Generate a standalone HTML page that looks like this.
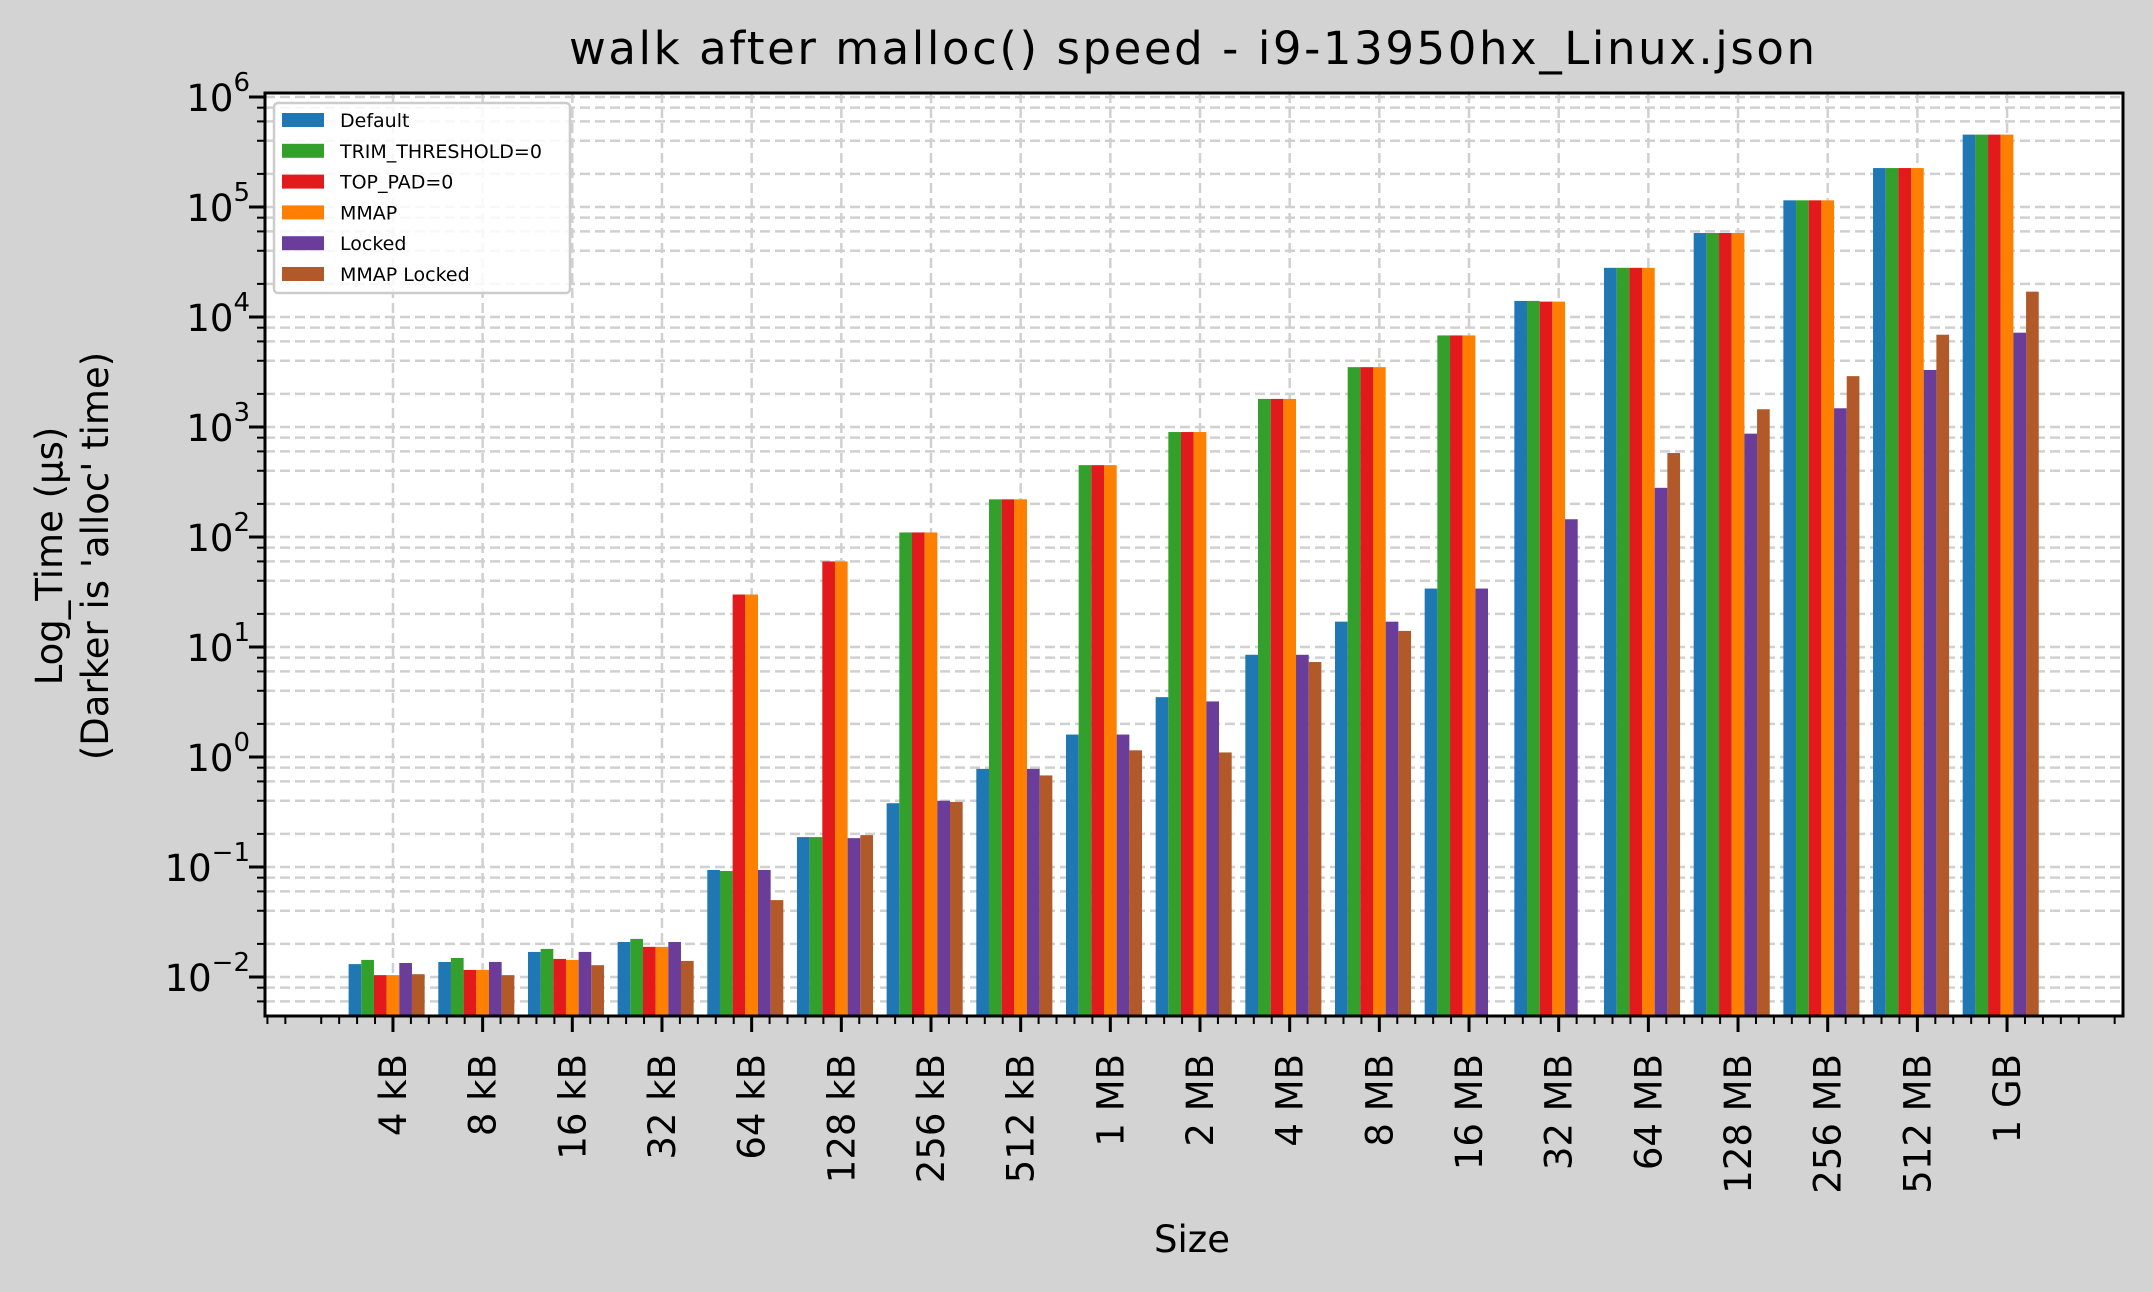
<!DOCTYPE html>
<html><head><meta charset="utf-8"><style>
html,body{margin:0;padding:0;background:#d3d3d3;}
svg{display:block;font-family:"DejaVu Sans","Liberation Sans",sans-serif;}
</style></head><body>
<svg id="chart" width="2153" height="1292" viewBox="0 0 2153 1292">
<rect x="0" y="0" width="2153" height="1292" fill="#d3d3d3"/>
<rect x="265" y="93" width="1858" height="923" fill="#ffffff"/>
<g id="grid"></g><g id="bars"></g><g id="axes"></g><g id="legend"></g>
<text x="1192" y="64" text-anchor="middle" font-size="45" fill="#000" textLength="1246">walk after malloc() speed - i9-13950hx_Linux.json</text>
<text x="1192" y="1252" text-anchor="middle" font-size="37" fill="#000">Size</text>
<text transform="translate(62,556) rotate(-90)" text-anchor="middle" font-size="37" fill="#000">Log_Time (µs)</text>
<text transform="translate(108,556) rotate(-90)" text-anchor="middle" font-size="37" fill="#000">(Darker is 'alloc' time)</text>
</svg>
<script>
const categories = ["4 kB","8 kB","16 kB","32 kB","64 kB","128 kB","256 kB","512 kB","1 MB","2 MB","4 MB","8 MB","16 MB","32 MB","64 MB","128 MB","256 MB","512 MB","1 GB"];
const seriesNames = ["Default","TRIM_THRESHOLD=0","TOP_PAD=0","MMAP","Locked","MMAP Locked"];
const seriesColors = ["#1f77b4","#33a02c","#e31a1c","#ff7f00","#6a3d9a","#b15928"];
const sDefault = [0.0131,0.0137,0.0169,0.0208,0.094,0.187,0.38,0.78,1.6,3.5,8.5,17,34,14000,28000,58000,115000,226000,455000];
const sTrim = [0.0143,0.0149,0.018,0.0222,0.092,0.187,110,220,450,900,1800,3500,6800,14000,28000,58000,115000,226000,455000];
const sTopPad = [0.0104,0.0116,0.0146,0.0188,30,60,110,220,450,900,1800,3500,6800,13800,28000,58000,115000,226000,455000];
const sMmap = [0.0104,0.0116,0.0143,0.0188,30,60,110,220,450,900,1800,3500,6800,13800,28000,58000,115000,226000,455000];
const sLocked = [0.0134,0.0137,0.0169,0.0208,0.094,0.183,0.40,0.78,1.6,3.2,8.5,17,34,145,280,870,1480,3300,7200];
const sMmapLocked = [0.0106,0.0104,0.0128,0.0140,0.050,0.195,0.39,0.68,1.15,1.1,7.3,14,null,null,580,1450,2900,6900,17000];
const yTickExps = [-2,-1,0,1,2,3,4,5,6];

const NS="http://www.w3.org/2000/svg";
const L=265,R=2123,T=93,B=1016;
const xmin=-1.427, xmax=19.293;
function xs(u){return L+(u-xmin)*(R-L)/(xmax-xmin);}
function ys(v){return 977-110*(Math.log10(v)+2);}
const ymin=Math.pow(10,-2-(B-977)/110);
function mk(tag,attrs,parent){const e=document.createElementNS(NS,tag);for(const k in attrs)e.setAttribute(k,attrs[k]);parent.appendChild(e);return e;}
const grid=document.getElementById('grid'),bars=document.getElementById('bars'),axes=document.getElementById('axes'),legend=document.getElementById('legend');
const gstyle={stroke:"#d0d0d0","stroke-width":2.5,"stroke-dasharray":"10,5",fill:"none"};

for(let e=-3;e<=6;e++){
  for(const m of [1,2,4,6,8]){
    const v=m*Math.pow(10,e);
    if(v<ymin||v>1.02e6)continue;
    const y=ys(v);
    if(y<T-1||y>B)continue;
    const g=mk('line',Object.assign({x1:L,x2:R,y1:y,y2:y},gstyle),grid);
    
    
    const t=mk('line',{x1:L-(m===1?16:8),x2:L,y1:y,y2:y,stroke:"#000","stroke-width":m===1?3:2},axes);
    
    
  }
}
yTickExps.forEach(e=>{
  const y=ys(Math.pow(10,e));
  const tx=mk('text',{x:250,y:y+14,"text-anchor":"end","font-size":37,fill:"#000"},axes);
  
  
  const a=mk('tspan',{},tx);
  a.textContent="10";
  const b=mk('tspan',{"font-size":26,dy:-20},tx);
  b.textContent=(e<0?"\u2212":"")+Math.abs(e);
});

categories.forEach((c,i)=>{
  const x=xs(i);
  const g=mk('line',Object.assign({x1:x,x2:x,y1:T,y2:B},gstyle),grid);
  
  
  const t=mk('line',{x1:x,x2:x,y1:B,y2:B+16,stroke:"#000","stroke-width":3},axes);
  
  
  const lb=mk('text',{transform:`translate(${x+13},1054) rotate(-90)`,"text-anchor":"end","font-size":37,fill:"#000"},axes);
  lb.textContent=c;
  
  
});
for(let u=Math.ceil(xmin/0.2)*0.2;u<=xmax;u+=0.2){
  if(Math.abs(u-Math.round(u))<1e-6)continue;
  const x=xs(u);
  const t=mk('line',{x1:x,x2:x,y1:B,y2:B+8,stroke:"#000","stroke-width":2},axes);
  
  
}

const series=[sDefault,sTrim,sTopPad,sMmap,sLocked,sMmapLocked];
const bw=0.1413;
const unit=(R-L)/(xmax-xmin);
series.forEach((s,si)=>{
  s.forEach((v,i)=>{
    if(v==null)return;
    const cx=xs(i+(si-3)*bw);
    const y=Math.max(T,ys(v));
    const r=mk('rect',{x:cx-bw*unit/2,y:y,width:bw*unit,height:B-y,fill:seriesColors[si]},bars);
    
    
  });
});

const sp=mk('rect',{x:L,y:T,width:R-L,height:B-T,fill:"none",stroke:"#000","stroke-width":3},axes);



const lbx=mk('rect',{x:274,y:103,width:296,height:190,rx:4,fill:"#ffffff","fill-opacity":0.85,stroke:"#cccccc","stroke-width":2.5},legend);


seriesNames.forEach((n,i)=>{
  const cy=120+i*30.8;
  const p=mk('rect',{x:282,y:cy-7,width:42,height:14,fill:seriesColors[i]},legend);
  
  
  const t=mk('text',{x:340,y:cy+7,"font-size":19,fill:"#000"},legend);
  t.textContent=n;
  
  
});
</script>
</body></html>
